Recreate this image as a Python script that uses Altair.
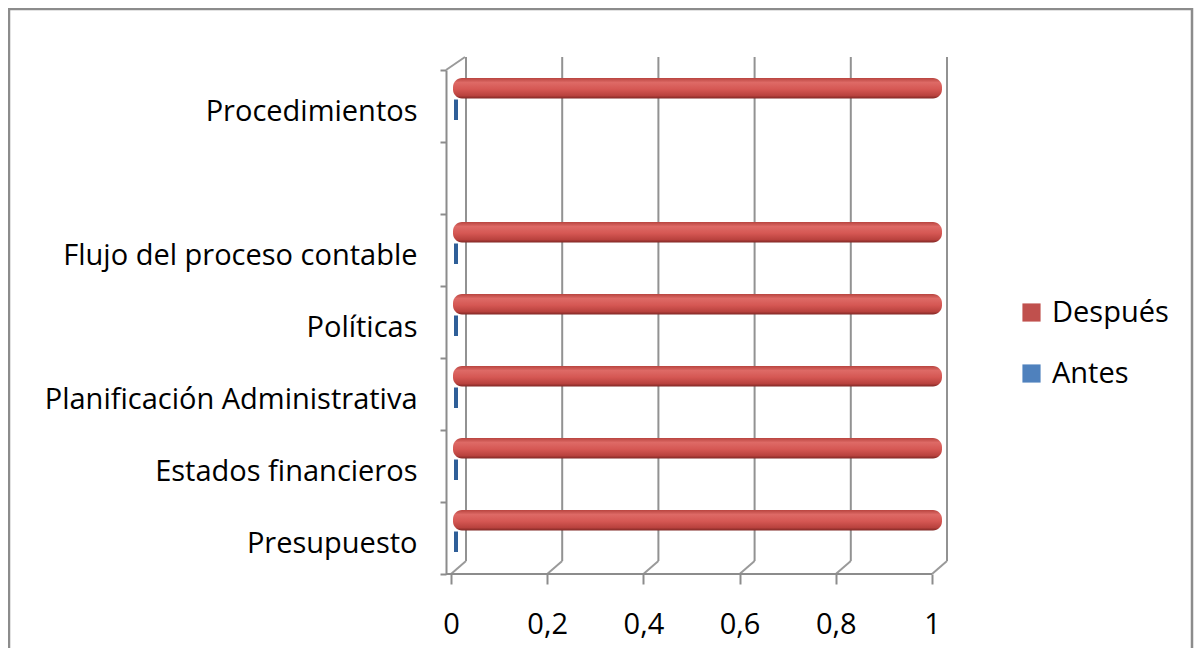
import altair as alt
import pandas as pd

# ---- data ----
categories = ["Presupuesto", "Estados financieros", "Planificación Administrativa",
              "Políticas", "Flujo del proceso contable", "Procedimientos"]
antes = [0, 0, 0, 0, 0, 0]
despues = [1, 1, 1, 1, 1, 1]
axis_order = ["Procedimientos", " ", "Flujo del proceso contable", "Políticas",
              "Planificación Administrativa", "Estados financieros", "Presupuesto"]
series = ["Después", "Antes"]
series_colors = ["#C0504D", "#4F81BD"]
x_ticks = [0, 0.2, 0.4, 0.6, 0.8, 1]

rows = []
for c, a, d in zip(categories, antes, despues):
    rows.append({"cat": c, "serie": "Después", "value": d})
    rows.append({"cat": c, "serie": "Antes", "value": a})
df = pd.DataFrame(rows)
ticks_df = pd.DataFrame({"t": x_ticks})
one = pd.DataFrame({"a": [0]})

W, H = 487, 504
DX, DY = 15, 13
GRAY = "#8c8c8c"
FONT = "Open Sans"
FS = 29

xscale = alt.Scale(domain=[0, 1], range=[5, 486], nice=False, zero=True)
x_axis = alt.Axis(title=None, values=x_ticks, domain=False, grid=False,
                  tickSize=10, tickWidth=2, tickColor=GRAY,
                  labelFont=FONT, labelFontSize=FS, labelColor="black",
                  labelPadding=26, labelFlush=False,
                  labelExpr="replace(format(datum.value, '~g'), '.', ',')")
y_axis = alt.Axis(title=None, grid=False, domainColor=GRAY, domainWidth=2,
                  tickColor=GRAY, tickWidth=2, tickSize=6, tickBand="extent",
                  labelFont=FONT, labelFontSize=FS, labelColor="black",
                  labelPadding=23, labelOffset=5, labelLimit=600)
yscale = alt.Scale(domain=axis_order, paddingInner=0, paddingOuter=0)
yoff_scale = alt.Scale(domain=series, range=[8, 50], paddingInner=0.04, paddingOuter=0)

border = alt.Chart(one).mark_rect(filled=False, stroke=GRAY, strokeWidth=2.5).encode(
    x=alt.value(-437), x2=alt.value(746), y=alt.value(-61), y2=alt.value(720))

grid = alt.Chart(ticks_df).mark_rule(xOffset=DX, color="#929292", strokeWidth=2).encode(
    x=alt.X("t:Q", scale=xscale, axis=x_axis),
    y=alt.value(-DY), y2=alt.value(H - DY))

floor_diag = alt.Chart(ticks_df).mark_rule(x2Offset=DX, color="#9a9a9a", strokeWidth=2).encode(
    x=alt.X("t:Q", scale=xscale, axis=x_axis), x2="t:Q",
    y=alt.value(H), y2=alt.value(H - DY))

top_diag = alt.Chart(one).mark_rule(color="#9a9a9a", strokeWidth=2).encode(
    x=alt.value(0), x2=alt.value(19), y=alt.value(0), y2=alt.value(-DY))

floor_front = alt.Chart(one).mark_rule(color=GRAY, strokeWidth=2).encode(
    x=alt.value(0), x2=alt.value(486), y=alt.value(H))

antes_bars = alt.Chart(df).transform_filter(alt.datum.serie == "Antes").transform_calculate(
    x0="0").mark_bar(
    stroke="#2F5F98", strokeWidth=4, cornerRadius=2, xOffset=5, x2Offset=5
).encode(
    y=alt.Y("cat:N", scale=yscale, axis=y_axis),
    yOffset=alt.YOffset("serie:N", scale=yoff_scale),
    x=alt.X("x0:Q", scale=xscale, axis=x_axis),
    x2="value:Q",
    color=alt.Color("serie:N", scale=alt.Scale(domain=series, range=series_colors),
                    legend=alt.Legend(title=None, orient="none", legendX=571, legendY=228,
                                      symbolType="square", symbolSize=330,
                                      symbolStrokeWidth=0, labelFont=FONT,
                                      labelFontSize=FS, labelColor="black",
                                      labelOffset=6, rowPadding=31, padding=0)),
)

red_grad = alt.Gradient(
    gradient="linear", x1=0, x2=0, y1=0, y2=1,
    stops=[alt.GradientStop(color="#b8443f", offset=0),
           alt.GradientStop(color="#de6a66", offset=0.22),
           alt.GradientStop(color="#d55753", offset=0.55),
           alt.GradientStop(color="#b9423e", offset=0.85),
           alt.GradientStop(color="#7f2724", offset=1)])

despues_bars = alt.Chart(df).transform_filter(alt.datum.serie == "Después").transform_calculate(
    x0="0").mark_bar(fill=red_grad, cornerRadius=9, xOffset=2, x2Offset=10).encode(
    y=alt.Y("cat:N", scale=yscale, axis=y_axis),
    yOffset=alt.YOffset("serie:N", scale=yoff_scale),
    x=alt.X("x0:Q", scale=xscale, axis=x_axis),
    x2="value:Q",
)

chart = alt.layer(border, grid, floor_diag, top_diag, floor_front, antes_bars, despues_bars).properties(
    width=W, height=H,
    autosize=alt.AutoSizeParams(type="none"),
    padding={"left": 438, "top": 62, "right": 261, "bottom": 74},
    background="white",
).configure_view(stroke=None)

chart.save("out.html", embed_options={"renderer": "svg", "actions": False})
